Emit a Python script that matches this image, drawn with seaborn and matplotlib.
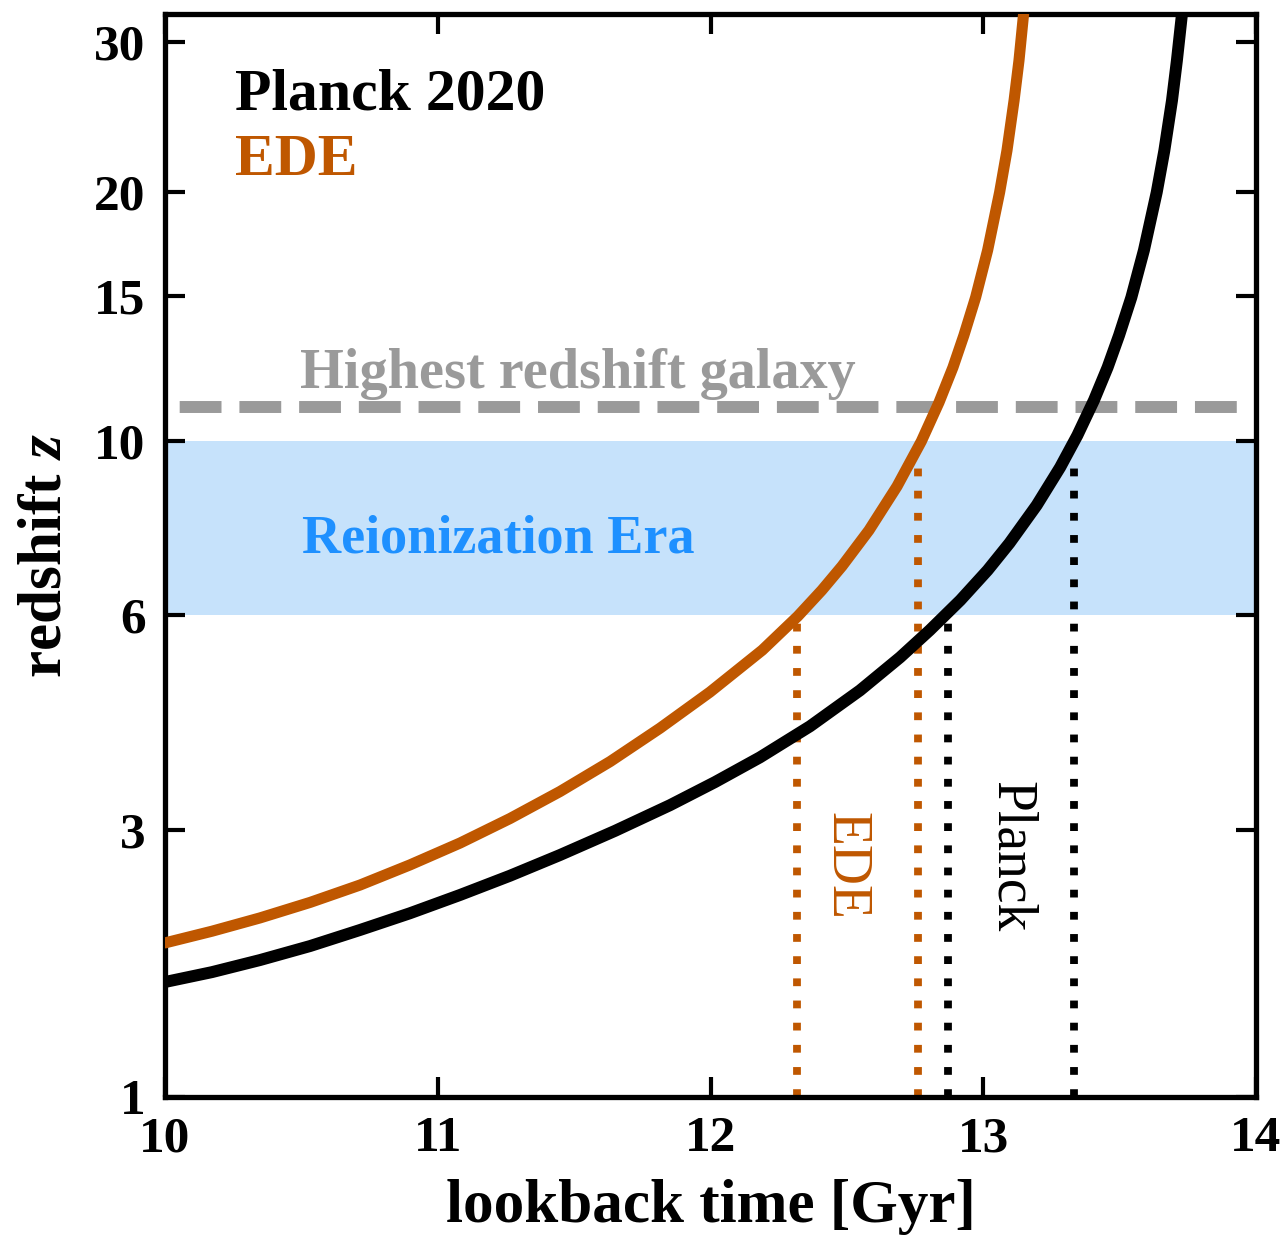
import numpy as np
import pandas as pd
import matplotlib
matplotlib.use("Agg")
import matplotlib.pyplot as plt
from matplotlib.ticker import NullLocator
import seaborn as sns

# ---------------- data ----------------
planck_t = [10.000, 10.172, 10.348, 10.532, 10.715, 10.898, 11.082, 11.265, 11.448, 11.650,
            11.852, 12.016, 12.181, 12.365, 12.548, 12.695, 12.804, 12.916, 13.016, 13.096,
            13.196, 13.282, 13.345, 13.406, 13.456, 13.498, 13.543, 13.589, 13.636, 13.664,
            13.692, 13.710, 13.732]
planck_z = [1.696, 1.766, 1.854, 1.960, 2.086, 2.223, 2.380, 2.553, 2.749, 2.992,
            3.268, 3.530, 3.831, 4.238, 4.749, 5.264, 5.722, 6.266, 6.854, 7.426,
            8.299, 9.262, 10.148, 11.214, 12.303, 13.456, 14.953, 17.026, 19.957, 22.364,
            25.604, 28.512, 33.045]

ede_t = [10.000, 10.172, 10.348, 10.532, 10.715, 10.898, 11.082, 11.265, 11.448, 11.632,
         11.815, 11.998, 12.190, 12.320, 12.408, 12.482, 12.581, 12.684, 12.773, 12.838,
         12.889, 12.929, 12.972, 13.016, 13.060, 13.087, 13.113, 13.131, 13.151]
ede_z = [1.984, 2.076, 2.184, 2.315, 2.468, 2.654, 2.868, 3.122, 3.421, 3.779,
         4.212, 4.724, 5.383, 5.970, 6.456, 6.937, 7.713, 8.768, 9.978, 11.150,
         12.303, 13.456, 14.953, 17.026, 19.957, 22.364, 25.604, 28.512, 33.045]

# lookback times where each model reaches z = 6 and z = 10 (dotted markers)
ede_mark_t = [12.317, 12.759]
ede_mark_ztop = [6.0, 9.4]
planck_mark_t = [12.871, 13.331]
planck_mark_ztop = [6.0, 9.4]

reion_band = [6.0, 10.0]
highest_z_galaxy = 11.0

x_ticks = [10, 11, 12, 13, 14]
y_ticks = [1, 3, 6, 10, 15, 20, 30]

# ---------------- style ----------------
ORANGE = "#BF5700"
BLUE_TXT = "#1E90FF"
BAND = "#C6E2FB"
GRAY = "#9A9A9A"

sns.set_style("ticks")
plt.rcParams["font.family"] = ["Liberation Serif", "DejaVu Serif"]
plt.rcParams["font.weight"] = "bold"
plt.rcParams["mathtext.fontset"] = "custom"
plt.rcParams["mathtext.rm"] = "Liberation Serif"
plt.rcParams["mathtext.it"] = "Liberation Serif:italic"
for key in ["text.color", "axes.labelcolor", "xtick.color", "ytick.color", "axes.edgecolor"]:
    plt.rcParams[key] = "black"

fig = plt.figure(figsize=(12.86, 12.37), dpi=100)
ax = fig.add_axes([165 / 1286, 1 - 1097 / 1237, (1256 - 165) / 1286, (1097 - 14) / 1237])

ax.set_yscale("function",
              functions=(lambda z: np.log10(np.clip(1 + np.asarray(z, float), 1e-9, None)),
                         lambda v: 10 ** np.asarray(v, float) - 1))

# reionization band
ax.axhspan(reion_band[0], reion_band[1], color=BAND, lw=0, zorder=0)

# highest redshift galaxy line
ax.axhline(highest_z_galaxy, color=GRAY, lw=8.6, linestyle=(3.77, (3.5, 1.5)), zorder=1)

# dotted markers
ax.vlines(ede_mark_t, [1, 1], ede_mark_ztop, colors=ORANGE, lw=5.6,
          linestyles=[(0, (1, 1.85))], zorder=2)
ax.vlines(planck_mark_t, [1, 1], planck_mark_ztop, colors="black", lw=5.6,
          linestyles=[(0, (1, 1.85))], zorder=2)

# curves
df_p = pd.DataFrame({"t": planck_t, "z": planck_z})
df_e = pd.DataFrame({"t": ede_t, "z": ede_z})
sns.lineplot(data=df_e, x="t", y="z", color=ORANGE, lw=8.0, estimator=None, sort=False,
             ax=ax, zorder=3)
sns.lineplot(data=df_p, x="t", y="z", color="black", lw=8.6, estimator=None, sort=False,
             ax=ax, zorder=3)
for ln in ax.get_lines():
    ln.set_solid_joinstyle("round")

ax.set_xlim(10, 14)
ax.set_ylim(1, 32.3)
ax.set_xticks(x_ticks)
ax.set_xticklabels([str(v) for v in x_ticks])
ax.set_yticks(y_ticks)
ax.set_yticklabels([str(v) for v in y_ticks])
ax.xaxis.set_minor_locator(NullLocator())
ax.yaxis.set_minor_locator(NullLocator())

for s in ax.spines.values():
    s.set_linewidth(3.8)
    s.set_color("black")
    s.set_visible(True)
ax.tick_params(axis="both", which="major", direction="in", length=14.5, width=3,
               top=True, right=True, labelsize=37, colors="black")
ax.tick_params(axis="x", pad=14)
ax.tick_params(axis="y", pad=14)

ax.set_xlabel("lookback time [Gyr]", fontsize=44, fontweight="bold", color="black")
ax.set_ylabel("redshift $z$", fontsize=44, fontweight="bold", color="black")
ax.xaxis.set_label_coords(0.5, -0.076)
ax.yaxis.set_label_coords(-0.084, 0.5)

# annotations
ax.text(0.0642, 0.9114, "Planck 2020", transform=ax.transAxes, fontsize=43,
        fontweight="bold", color="black", ha="left", va="baseline")
ax.text(0.0642, 0.8514, "EDE", transform=ax.transAxes, fontsize=43,
        fontweight="bold", color=ORANGE, ha="left", va="baseline")
ax.text(0.1237, 0.6547, "Highest redshift galaxy", transform=ax.transAxes, fontsize=40.5,
        fontweight="bold", color=GRAY, ha="left", va="baseline", zorder=4)
ax.text(0.1256, 0.5032, "Reionization Era", transform=ax.transAxes, fontsize=39,
        fontweight="bold", color=BLUE_TXT, ha="left", va="baseline", zorder=4)

ax.text(12.493, 2.64, "EDE", fontsize=40, fontweight="normal", color=ORANGE,
        rotation=270, ha="center", va="center", zorder=4)
ax.text(13.100, 2.73, "Planck", fontsize=40, fontweight="normal", color="black",
        rotation=270, ha="center", va="center", zorder=4)

fig.savefig("out.png", dpi=100)
